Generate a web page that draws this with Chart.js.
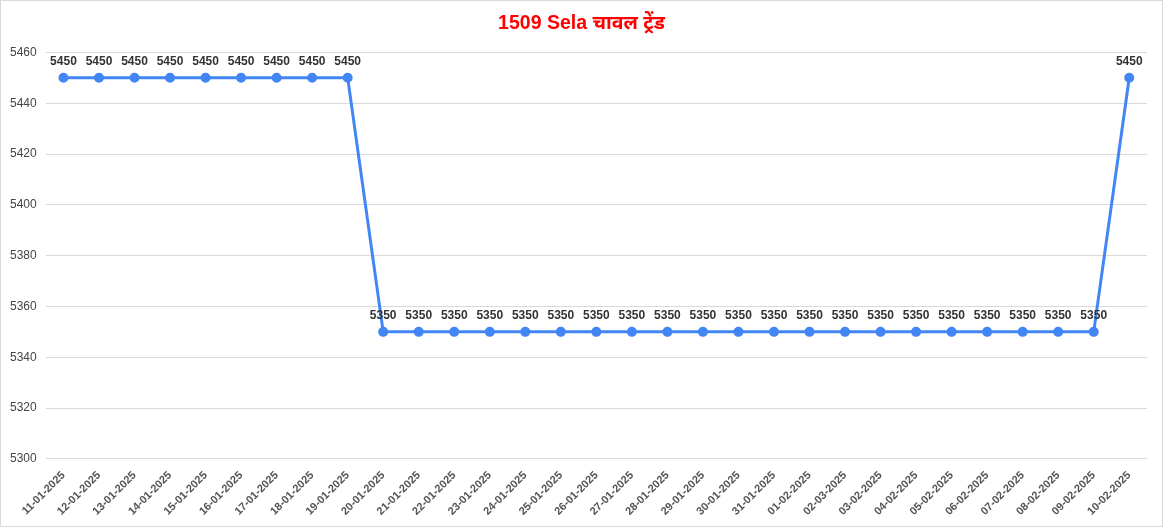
<!DOCTYPE html>
<html>
<head>
<meta charset="utf-8">
<script src="https://cdn.jsdelivr.net/npm/chart.js@4"></script>
<style>
  html, body { margin: 0; padding: 0; background: #fff; }
  #wrap { position: relative; width: 1161px; height: 525px; border: 1px solid #d9d9d9; }
</style>
</head>
<body>
<div id="wrap"><canvas id="c"></canvas></div>
<script>
    'use strict';

    var dates = [
        '11-01-2025', '12-01-2025', '13-01-2025', '14-01-2025', '15-01-2025',
        '16-01-2025', '17-01-2025', '18-01-2025', '19-01-2025', '20-01-2025',
        '21-01-2025', '22-01-2025', '23-01-2025', '24-01-2025', '25-01-2025',
        '26-01-2025', '27-01-2025', '28-01-2025', '29-01-2025', '30-01-2025',
        '31-01-2025', '01-02-2025', '02-03-2025', '03-02-2025', '04-02-2025',
        '05-02-2025', '06-02-2025', '07-02-2025', '08-02-2025', '09-02-2025',
        '10-02-2025'
    ];
    var prices = [
        5450, 5450, 5450, 5450, 5450, 5450, 5450, 5450, 5450, 5350,
        5350, 5350, 5350, 5350, 5350, 5350, 5350, 5350, 5350, 5350,
        5350, 5350, 5350, 5350, 5350, 5350, 5350, 5350, 5350, 5350,
        5450
    ];
    var yTicks = [5300, 5320, 5340, 5360, 5380, 5400, 5420, 5440, 5460];
    var chartTitle = '1509 Sela चावल ट्रेंड';

    // simple value labels above each point (no datalabels plugin offline)
    var valueLabels = {
        id: 'valueLabels',
        afterDatasetsDraw: function (chart) {
            var ctx = chart.ctx;
            var meta = chart.getDatasetMeta(0);
            var data = chart.data.datasets[0].data;
            ctx.save();
            ctx.font = 'bold 12px Arial, "Liberation Sans", sans-serif';
            ctx.fillStyle = '#333';
            ctx.textAlign = 'center';
            ctx.textBaseline = 'bottom';
            meta.data.forEach(function (pt, i) {
                ctx.fillText(String(data[i]), pt.x, pt.y - 10);
            });
            ctx.restore();
        }
    };

    var ctx = document.getElementById('c').getContext('2d');
    var chart = new Chart(ctx, {
        type: 'line',
        data: {
            labels: dates,
            datasets: [{
                data: prices,
                borderColor: '#4285f4',
                backgroundColor: '#4285f4',
                borderWidth: 3,
                pointRadius: 3.5,
                pointHoverRadius: 4,
                tension: 0
            }]
        },
        options: {
            responsive: true,
            maintainAspectRatio: false,
            animation: false,
            layout: { padding: { left: 0, right: 0, top: 0, bottom: 6 } },
            plugins: {
                legend: { display: false },
                tooltip: { enabled: false },
                title: {
                    display: true,
                    text: chartTitle,
                    color: '#ff0000',
                    font: { family: 'Arial, "Liberation Sans", "Noto Sans", sans-serif', size: 19.5, weight: 'bold' },
                    padding: { top: 11, bottom: 17 }
                }
            },
            scales: {
                x: {
                    offset: true,
                    grid: { display: false },
                    border: { display: false },
                    ticks: {
                        color: '#555',
                        font: { family: 'Arial, "Liberation Sans", sans-serif', size: 11, weight: 'bold' },
                        maxRotation: 45,
                        minRotation: 45,
                        autoSkip: false,
                        padding: 2
                    }
                },
                y: {
                    min: 5300,
                    max: 5460,
                    afterBuildTicks: function (axis) {
                        axis.ticks = yTicks.map(function (v) { return { value: v }; });
                    },
                    grid: { color: '#d9d9d9', drawTicks: false },
                    border: { display: false },
                    ticks: {
                        color: '#444',
                        font: { family: 'Arial, "Liberation Sans", sans-serif', size: 12 },
                        padding: 9,
                        callback: function (v) { return String(v); }
                    }
                },
                // empty right axis, just keeps a margin so the title stays centred
                yRight: {
                    position: 'right',
                    min: 5300,
                    max: 5460,
                    grid: { display: false },
                    border: { display: false },
                    ticks: { display: false },
                    afterFit: function (axis) { axis.width = 15; }
                }
            }
        },
        plugins: [valueLabels]
    });
</script>
</body>
</html>
